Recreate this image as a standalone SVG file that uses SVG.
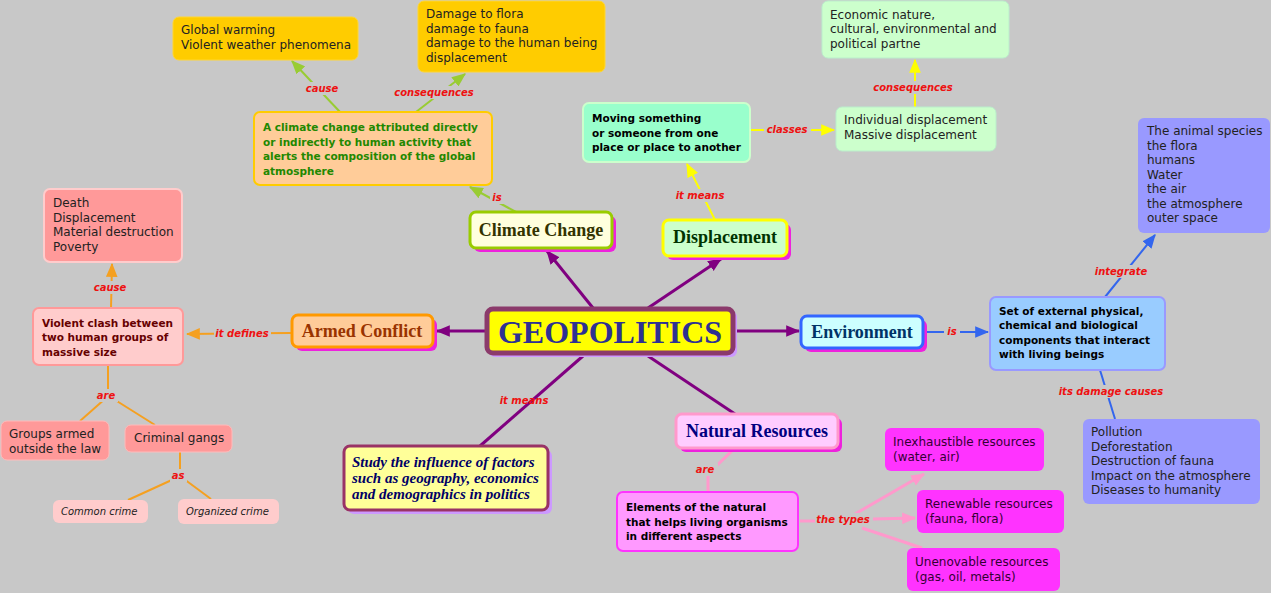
<svg xmlns="http://www.w3.org/2000/svg" width="1271" height="593" viewBox="0 0 1271 593">
<defs>
<style>
.t{font-family:"DejaVu Sans",Verdana,sans-serif;font-size:12px;fill:#222}
.it{font-family:"DejaVu Sans",Verdana,sans-serif;font-size:10px;font-style:italic;fill:#222}
.b{font-family:"DejaVu Sans",Verdana,sans-serif;font-size:10.5px;font-weight:bold}
.lb{font-family:"DejaVu Sans",Verdana,sans-serif;font-size:10px;font-weight:bold;font-style:italic;fill:#ee1111;text-anchor:middle}
.h{font-family:"Liberation Serif","Times New Roman",serif;font-weight:bold;font-size:18px;text-anchor:middle}
.lbg{fill:#c8c8c8}
.cp{stroke:#800080;stroke-width:3;fill:none}
.cg{stroke:#99cc33;stroke-width:2;fill:none}
.cy{stroke:#ffff00;stroke-width:2;fill:none}
.co{stroke:#f5a020;stroke-width:2;fill:none}
.cb{stroke:#3366ee;stroke-width:2;fill:none}
.ck{stroke:#ff99cc;stroke-width:3;fill:none}
.sh{fill:#ee22dd}
</style>
<marker id="mp" viewBox="0 0 12 10" refX="11" refY="5" markerWidth="14" markerHeight="12" orient="auto" markerUnits="userSpaceOnUse"><path d="M0,0 L12,5 L0,10 z" fill="#800080"/></marker>
<marker id="mg" viewBox="0 0 12 10" refX="11" refY="5" markerWidth="14" markerHeight="12" orient="auto" markerUnits="userSpaceOnUse"><path d="M0,0 L12,5 L0,10 z" fill="#99cc33"/></marker>
<marker id="my" viewBox="0 0 12 10" refX="11" refY="5" markerWidth="14" markerHeight="12" orient="auto" markerUnits="userSpaceOnUse"><path d="M0,0 L12,5 L0,10 z" fill="#ffff00"/></marker>
<marker id="mo" viewBox="0 0 12 10" refX="11" refY="5" markerWidth="14" markerHeight="12" orient="auto" markerUnits="userSpaceOnUse"><path d="M0,0 L12,5 L0,10 z" fill="#f5a020"/></marker>
<marker id="mb" viewBox="0 0 12 10" refX="11" refY="5" markerWidth="14" markerHeight="12" orient="auto" markerUnits="userSpaceOnUse"><path d="M0,0 L12,5 L0,10 z" fill="#3366ee"/></marker>
<marker id="mk" viewBox="0 0 12 10" refX="11" refY="5" markerWidth="14" markerHeight="12" orient="auto" markerUnits="userSpaceOnUse"><path d="M0,0 L12,5 L0,10 z" fill="#ff99cc"/></marker>
</defs>
<rect width="1271" height="593" fill="#c8c8c8"/>

<g id="connectors">
<line class="cp" x1="593" y1="308" x2="547" y2="251" marker-end="url(#mp)"/>
<line class="cp" x1="648" y1="308" x2="721" y2="259" marker-end="url(#mp)"/>
<line class="cp" x1="486" y1="331" x2="437" y2="331" marker-end="url(#mp)"/>
<line class="cp" x1="734" y1="331" x2="799" y2="331" marker-end="url(#mp)"/>
<line class="cp" x1="583" y1="356" x2="480" y2="446"/>
<line class="cp" x1="648" y1="356" x2="735" y2="414"/>

<line class="cg" x1="516" y1="212" x2="470" y2="187" marker-end="url(#mg)"/>
<line class="cg" x1="340" y1="112" x2="292" y2="61" marker-end="url(#mg)"/>
<line class="cg" x1="416" y1="112" x2="465" y2="74" marker-end="url(#mg)"/>

<line class="cy" x1="715" y1="220" x2="687" y2="164" marker-end="url(#my)"/>
<line class="cy" x1="750" y1="130" x2="834" y2="130" marker-end="url(#my)"/>
<line class="cy" x1="915" y1="107" x2="915" y2="60" marker-end="url(#my)"/>

<line class="co" x1="292" y1="333" x2="187" y2="334" marker-end="url(#mo)"/>
<line class="co" x1="111" y1="308" x2="112" y2="264" marker-end="url(#mo)"/>
<polyline class="co" points="108,365 108,394"/>
<line class="co" x1="106" y1="398" x2="80" y2="421"/>
<line class="co" x1="112" y1="398" x2="155" y2="425"/>
<line class="co" x1="180" y1="452" x2="180" y2="474"/>
<line class="co" x1="174" y1="479" x2="128" y2="500"/>
<line class="co" x1="184" y1="479" x2="211" y2="499"/>

<line class="cb" x1="923" y1="332" x2="988" y2="332" marker-end="url(#mb)"/>
<line class="cb" x1="1105" y1="297" x2="1155" y2="235" marker-end="url(#mb)"/>
<line class="cb" x1="1100" y1="370" x2="1115" y2="419"/>

<polyline class="ck" points="735,448 708,474 708,492"/>
<line class="ck" x1="800" y1="521" x2="820" y2="521"/>
<line class="ck" x1="855" y1="514" x2="924" y2="474" marker-end="url(#mk)"/>
<line class="ck" x1="873" y1="519" x2="915" y2="518" marker-end="url(#mk)"/>
<line class="ck" x1="862" y1="528" x2="922" y2="548"/>

<rect class="lbg" x="304" y="82" width="37" height="13"/><text class="lb" x="322" y="92">cause</text>
<rect class="lbg" x="394" y="86" width="81" height="13"/><text class="lb" x="434" y="96">consequences</text>
<rect class="lbg" x="490" y="191" width="14" height="13"/><text class="lb" x="497" y="201">is</text>
<rect class="lbg" x="674" y="189" width="52" height="13"/><text class="lb" x="700" y="199">it means</text>
<rect class="lbg" x="764" y="123" width="47" height="13"/><text class="lb" x="787" y="133">classes</text>
<rect class="lbg" x="872" y="81" width="82" height="13"/><text class="lb" x="913" y="91">consequences</text>
<rect class="lbg" x="214" y="327" width="57" height="13"/><text class="lb" x="242" y="337">it defines</text>
<rect class="lbg" x="92" y="281" width="37" height="13"/><text class="lb" x="110" y="291">cause</text>
<rect class="lbg" x="95" y="389" width="23" height="13"/><text class="lb" x="106" y="399">are</text>
<rect class="lbg" x="170" y="469" width="17" height="13"/><text class="lb" x="178" y="479">as</text>
<text class="lb" x="524" y="404">it means</text>
<rect class="lbg" x="944" y="325" width="16" height="13"/><text class="lb" x="952" y="335">is</text>
<rect class="lbg" x="1094" y="265" width="55" height="13"/><text class="lb" x="1121" y="275">integrate</text>
<rect class="lbg" x="1058" y="385" width="106" height="13"/><text class="lb" x="1111" y="395">its damage causes</text>
<rect class="lbg" x="694" y="463" width="24" height="13"/><text class="lb" x="705" y="473">are</text>
<rect class="lbg" x="815" y="513" width="56" height="13"/><text class="lb" x="843" y="523">the types</text>
</g>

<g id="geopolitics">
<rect x="489" y="311" width="248" height="46" rx="6" fill="#cc99ff"/>
<rect x="487" y="309" width="246" height="44" rx="6" fill="#ffff00" stroke="#8b3a6b" stroke-width="5"/>
<text x="610" y="343" font-family="Liberation Serif,'Times New Roman',serif" font-weight="bold" font-size="32" fill="#2e3192" text-anchor="middle">GEOPOLITICS</text>
</g>

<g id="climate-change">
<rect class="sh" x="474" y="216" width="142" height="36" rx="6"/>
<rect x="470" y="212" width="142" height="36" rx="6" fill="#ffffdd" stroke="#99cc00" stroke-width="3"/>
<text class="h" x="541" y="236" fill="#333300">Climate Change</text>
</g>

<g id="displacement">
<rect class="sh" x="667" y="224" width="124" height="36" rx="6"/>
<rect x="663" y="220" width="124" height="36" rx="6" fill="#ccffcc" stroke="#ffff00" stroke-width="3"/>
<text class="h" x="725" y="243" fill="#003300">Displacement</text>
</g>

<g id="armed-conflict">
<rect class="sh" x="296" y="319" width="141" height="32" rx="6"/>
<rect x="292" y="315" width="141" height="32" rx="6" fill="#ffcc99" stroke="#ff9900" stroke-width="3"/>
<text class="h" x="362" y="337" fill="#993300">Armed Conflict</text>
</g>

<g id="environment">
<rect class="sh" x="805" y="320" width="122" height="32" rx="6"/>
<rect x="801" y="316" width="122" height="32" rx="6" fill="#ccffff" stroke="#3366ff" stroke-width="3"/>
<text class="h" x="862" y="338" fill="#003366">Environment</text>
</g>

<g id="natural-resources">
<rect class="sh" x="680" y="418" width="162" height="34" rx="6"/>
<rect x="676" y="414" width="162" height="34" rx="6" fill="#ffccff" stroke="#ff99cc" stroke-width="3"/>
<text class="h" x="757" y="437" fill="#000080">Natural Resources</text>
</g>

<g id="study">
<rect x="348" y="450" width="204" height="64" rx="6" fill="#cc99ff"/>
<rect x="344" y="446" width="204" height="64" rx="6" fill="#ffff99" stroke="#993366" stroke-width="3"/>
<text font-family="Liberation Serif,'Times New Roman',serif" font-weight="bold" font-style="italic" font-size="15" fill="#000066"><tspan x="352" y="467">Study the influence of factors</tspan><tspan x="352" y="483">such as geography, economics</tspan><tspan x="352" y="499">and demographics in politics</tspan></text>
</g>

<g id="climate-definition">
<rect x="254" y="112" width="238" height="73" rx="6" fill="#ffcc99" stroke="#ffcc00" stroke-width="2"/>
<text class="b" fill="#228800"><tspan x="263" y="131">A climate change attributed directly</tspan><tspan x="263" y="146">or indirectly to human activity that</tspan><tspan x="263" y="160">alerts the composition of the global</tspan><tspan x="263" y="175">atmosphere</tspan></text>
</g>

<g id="global-warming">
<rect x="173" y="17" width="185" height="43" rx="6" fill="#ffcc00" stroke="#ffd633"/>
<text class="t"><tspan x="181" y="34">Global warming</tspan><tspan x="181" y="49">Violent weather phenomena</tspan></text>
</g>

<g id="damage">
<rect x="418" y="1" width="187" height="71" rx="6" fill="#ffcc00" stroke="#ffd633"/>
<text class="t"><tspan x="426" y="18">Damage to flora</tspan><tspan x="426" y="33">damage to fauna</tspan><tspan x="426" y="47">damage to the human being</tspan><tspan x="426" y="62">displacement</tspan></text>
</g>

<g id="moving">
<rect x="583" y="103" width="167" height="59" rx="6" fill="#99ffcc" stroke="#ccffcc" stroke-width="2"/>
<text class="b" fill="#000"><tspan x="592" y="122">Moving something</tspan><tspan x="592" y="137">or someone from one</tspan><tspan x="592" y="151">place or place to another</tspan></text>
</g>

<g id="individual-displacement">
<rect x="836" y="107" width="160" height="44" rx="6" fill="#ccffcc" stroke="#bbeecc"/>
<text class="t"><tspan x="844" y="124">Individual displacement</tspan><tspan x="844" y="139">Massive displacement</tspan></text>
</g>

<g id="economic">
<rect x="822" y="1" width="187" height="57" rx="6" fill="#ccffcc" stroke="#bbeecc"/>
<text class="t"><tspan x="830" y="19">Economic nature,</tspan><tspan x="830" y="33">cultural, environmental and</tspan><tspan x="830" y="48">political partne</tspan></text>
</g>

<g id="death">
<rect x="44" y="189" width="138" height="73" rx="6" fill="#ff9999" stroke="#ffcccc" stroke-width="2"/>
<text class="t"><tspan x="53" y="207">Death</tspan><tspan x="53" y="222">Displacement</tspan><tspan x="53" y="236">Material destruction</tspan><tspan x="53" y="251">Poverty</tspan></text>
</g>

<g id="violent-clash">
<rect x="33" y="308" width="150" height="57" rx="6" fill="#ffcccc" stroke="#ff9999" stroke-width="2"/>
<text class="b" fill="#660000"><tspan x="42" y="327">Violent clash between</tspan><tspan x="42" y="341">two human groups of</tspan><tspan x="42" y="356">massive size</tspan></text>
</g>

<g id="groups-armed">
<rect x="1" y="421" width="108" height="39" rx="6" fill="#ff9999" stroke="#ffbbbb"/>
<text class="t"><tspan x="9" y="438">Groups armed</tspan><tspan x="9" y="453">outside the law</tspan></text>
</g>

<g id="criminal-gangs">
<rect x="125" y="425" width="107" height="27" rx="6" fill="#ff9999" stroke="#ffbbbb"/>
<text class="t" x="134" y="442">Criminal gangs</text>
</g>

<g id="common-crime">
<rect x="53" y="500" width="95" height="23" rx="6" fill="#ffcccc"/>
<text class="it" x="61" y="515">Common crime</text>
</g>

<g id="organized-crime">
<rect x="178" y="499" width="101" height="25" rx="6" fill="#ffcccc"/>
<text class="it" x="186" y="515">Organized crime</text>
</g>

<g id="set-external">
<rect x="990" y="297" width="175" height="73" rx="6" fill="#99ccff" stroke="#9999ff" stroke-width="2"/>
<text class="b" fill="#000"><tspan x="999" y="315">Set of external physical,</tspan><tspan x="999" y="329">chemical and biological</tspan><tspan x="999" y="344">components that interact</tspan><tspan x="999" y="358">with living beings</tspan></text>
</g>

<g id="animal-species">
<rect x="1138" y="118" width="132" height="115" rx="6" fill="#9999ff"/>
<text class="t"><tspan x="1147" y="135">The animal species</tspan><tspan x="1147" y="150">the flora</tspan><tspan x="1147" y="164">humans</tspan><tspan x="1147" y="179">Water</tspan><tspan x="1147" y="193">the air</tspan><tspan x="1147" y="208">the atmosphere</tspan><tspan x="1147" y="222">outer space</tspan></text>
</g>

<g id="pollution">
<rect x="1083" y="419" width="177" height="85" rx="6" fill="#9999ff"/>
<text class="t"><tspan x="1091" y="436">Pollution</tspan><tspan x="1091" y="451">Deforestation</tspan><tspan x="1091" y="465">Destruction of fauna</tspan><tspan x="1091" y="480">Impact on the atmosphere</tspan><tspan x="1091" y="494">Diseases to humanity</tspan></text>
</g>

<g id="elements">
<rect x="617" y="492" width="181" height="59" rx="6" fill="#ff99ff" stroke="#ff33ff" stroke-width="2"/>
<text class="b" fill="#000"><tspan x="626" y="511">Elements of the natural</tspan><tspan x="626" y="526">that helps living organisms</tspan><tspan x="626" y="540">in different aspects</tspan></text>
</g>

<g id="inexhaustible">
<rect x="885" y="428" width="159" height="43" rx="6" fill="#ff33ff"/>
<text class="t" style="fill:#330033"><tspan x="893" y="446">Inexhaustible resources</tspan><tspan x="893" y="461">(water, air)</tspan></text>
</g>

<g id="renewable">
<rect x="917" y="490" width="147" height="43" rx="6" fill="#ff33ff"/>
<text class="t" style="fill:#330033"><tspan x="925" y="508">Renewable resources</tspan><tspan x="925" y="523">(fauna, flora)</tspan></text>
</g>

<g id="unenovable">
<rect x="907" y="548" width="153" height="43" rx="6" fill="#ff33ff"/>
<text class="t" style="fill:#330033"><tspan x="915" y="566">Unenovable resources</tspan><tspan x="915" y="581">(gas, oil, metals)</tspan></text>
</g>
</svg>
